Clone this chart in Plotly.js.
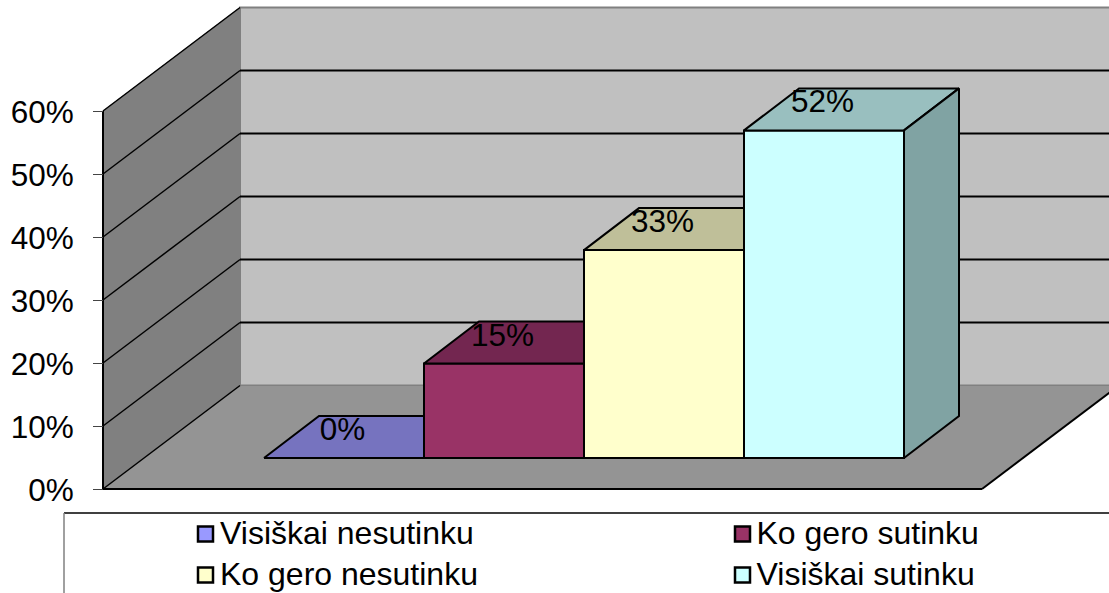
<!DOCTYPE html>
<html>
<head>
<meta charset="utf-8">
<script src="https://cdn.plot.ly/plotly-3.0.1.min.js"></script>
<style>html,body{margin:0;padding:0;background:#fff;overflow:hidden}#chart{width:1109px;height:593px}</style>
</head>
<body>
<div id="chart"></div>
<script>
// Data
var categories = ["Visiškai nesutinku", "Ko gero sutinku", "Ko gero nesutinku", "Visiškai sutinku"];
var values = [0, 15, 33, 52];
var tickValues = [0, 10, 20, 30, 40, 50, 60];
var tickLabels = ["0%", "10%", "20%", "30%", "40%", "50%", "60%"];

// Colours of each series: front, top, side
var frontColors = ["#9999FF", "#993366", "#FFFFCC", "#CCFFFF"];
var topColors = ["#7673BF", "#732650", "#BFBF99", "#99BFBF"];
var sideColors = ["#605F9F", "#602040", "#A0A080", "#80A3A3"];

// Oblique projection, in axis units (x: one category; y: one percent)
var W = 1109, H = 593;
var PX_X = 160, PX_Y = 6.3;                 // pixels per unit
var X_AT_LEFT = -0.5 - 264 / PX_X;          // x-axis value at page left
var Y_AT_BOTTOM = -(H - 489) / PX_Y;        // y-axis value at page bottom
var wallDx = 137 / PX_X, wallDy = 103.5 / PX_Y;
var barDx = 55 / PX_X, barDy = 42 / PX_Y;
var barBase = 31 / PX_Y;
var floorLeft = X_AT_LEFT + 103 / PX_X, floorRight = X_AT_LEFT + 982 / PX_X;
var yMax = 60;
function pxX(px) { return X_AT_LEFT + px / PX_X; }
function pxY(py) { return Y_AT_BOTTOM + (H - py) / PX_Y; }

function poly(xs, ys, fill, lineColor, lineWidth) {
  var p = "M" + xs.map(function (x, i) { return x + "," + ys[i]; }).join("L") + "Z";
  return {type: "path", xref: "x", yref: "y", path: p, fillcolor: fill, layer: "below",
          line: {color: lineColor, width: lineWidth}};
}
function seg(x0, y0, x1, y1, color, width) {
  return {type: "line", xref: "x", yref: "y", x0: x0, y0: y0, x1: x1, y1: y1, layer: "below",
          line: {color: color, width: width}};
}

var backL = floorLeft + wallDx, backR = floorRight + wallDx;
var shapes = [
  poly([backL, backR, backR, backL], [wallDy, wallDy, yMax + wallDy, yMax + wallDy], "#C0C0C0", "#808080", 2),
  poly([floorLeft, backL, backL, floorLeft], [0, wallDy, yMax + wallDy, yMax], "#808080", "#808080", 1),
  poly([floorLeft, floorRight, backR, backL], [0, 0, wallDy, wallDy], "#949494", "#808080", 1)
];
tickValues.slice(1, -1).forEach(function (v) {
  shapes.push(seg(floorLeft, v, backL, v + wallDy, "#000", 1.5));
  shapes.push(seg(backL, v + wallDy, backR, v + wallDy, "#000", 2));
});
shapes.push(seg(floorLeft, yMax, backL, yMax + wallDy, "#000", 1.5));
shapes.push(seg(floorLeft, 0, floorLeft, yMax, "#000", 2));
shapes.push(seg(floorLeft, 0, backL, wallDy, "#000", 1.5));
shapes.push(seg(floorLeft, 0, floorRight, 0, "#000", 2));
shapes.push(seg(floorRight, 0, backR, wallDy, "#000", 2));
// legend frame, running off the page as in the reference
shapes.push({type: "line", xref: "paper", yref: "paper", x0: 64 / W, x1: 1, y0: 1 - 513 / H, y1: 1 - 513 / H,
             line: {color: "#000", width: 1.5}});
shapes.push({type: "line", xref: "paper", yref: "paper", x0: 64 / W, x1: 64 / W, y0: 0, y1: 1 - 513 / H,
             line: {color: "#808080", width: 1.5}});

var traces = [];
// front faces
categories.forEach(function (c, i) {
  traces.push({type: "bar", x: [i], y: [values[i]], base: [barBase], width: 1, name: c, showlegend: false,
               marker: {color: frontColors[i], line: {color: "#000", width: 2}}, hoverinfo: "skip"});
});
// top and side faces, cut where the next bar stands in front
categories.forEach(function (c, i) {
  var l = i - 0.5, r = i + 0.5, t = barBase + values[i];
  var hidden = i < values.length - 1 && values[i + 1] >= values[i];
  var backRight = hidden ? r : r + barDx;
  traces.push({type: "scatter", mode: "lines", fill: "toself", fillcolor: topColors[i], showlegend: false,
               x: [l, l + barDx, backRight, r, l], y: [t, t + barDy, t + barDy, t, t],
               line: {color: "#000", width: 2}, hoverinfo: "skip"});
  if (!hidden) {
    traces.push({type: "scatter", mode: "lines", fill: "toself", fillcolor: sideColors[i], showlegend: false,
                 x: [r, r + barDx, r + barDx, r, r], y: [t, t + barDy, barBase + barDy, barBase, t],
                 line: {color: "#000", width: 2}, hoverinfo: "skip"});
  }
});
// data labels
traces.push({type: "scatter", mode: "text", showlegend: false, hoverinfo: "skip",
             x: categories.map(function (c, i) { return i - 0.01; }),
             y: values.map(function (v) { return v + barBase + 4.1; }),
             text: values.map(function (v) { return v + "%"; }),
             textposition: "middle center",
             textfont: {family: "Liberation Sans", size: 31.5, color: "#000"}});
// legend, two columns by two rows, in the reference's own place on the page
var legendSwatchPx = [205.5, 742.5], legendTextPx = [220, 756.5], legendRowsPx = [534, 575], legendTextRowsPx = [536, 577];
categories.forEach(function (c, i) {
  var col = i % 2, row = Math.floor(i / 2);
  traces.push({type: "scatter", mode: "markers", showlegend: false, hoverinfo: "skip",
               x: [pxX(legendSwatchPx[col])], y: [pxY(legendRowsPx[row])], cliponaxis: false,
               marker: {symbol: "square", size: 15, color: frontColors[i], line: {color: "#000", width: 2.5}}});
  traces.push({type: "scatter", mode: "text", showlegend: false, hoverinfo: "skip",
               x: [pxX(legendTextPx[col])], y: [pxY(legendTextRowsPx[row])], cliponaxis: false,
               text: [c], textposition: "middle right",
               textfont: {family: "Liberation Sans", size: 32, color: "#000"}});
});

var layout = {
  width: W, height: H,
  margin: {l: 0, r: 0, t: 0, b: 0, pad: 0},
  paper_bgcolor: "#fff", plot_bgcolor: "#fff",
  barmode: "overlay",
  showlegend: false,
  font: {family: "Liberation Sans", color: "#000", size: 30},
  xaxis: {visible: false, range: [X_AT_LEFT, X_AT_LEFT + W / PX_X], fixedrange: true},
  yaxis: {range: [Y_AT_BOTTOM, Y_AT_BOTTOM + H / PX_Y], anchor: "free", position: 103 / W, side: "left",
          tickmode: "array", tickvals: tickValues, ticktext: tickLabels,
          ticks: "outside", ticklen: 10, tickwidth: 1, tickcolor: "#444",
          showgrid: false, zeroline: false, showline: false, fixedrange: true,
          ticklabelstandoff: 13, ticklabelshift: 1, automargin: false,
          tickfont: {family: "Liberation Sans", size: 31.5, color: "#000"}},
  shapes: shapes
};
Plotly.newPlot("chart", traces, layout, {displayModeBar: false, staticPlot: true});
</script>
</body>
</html>
